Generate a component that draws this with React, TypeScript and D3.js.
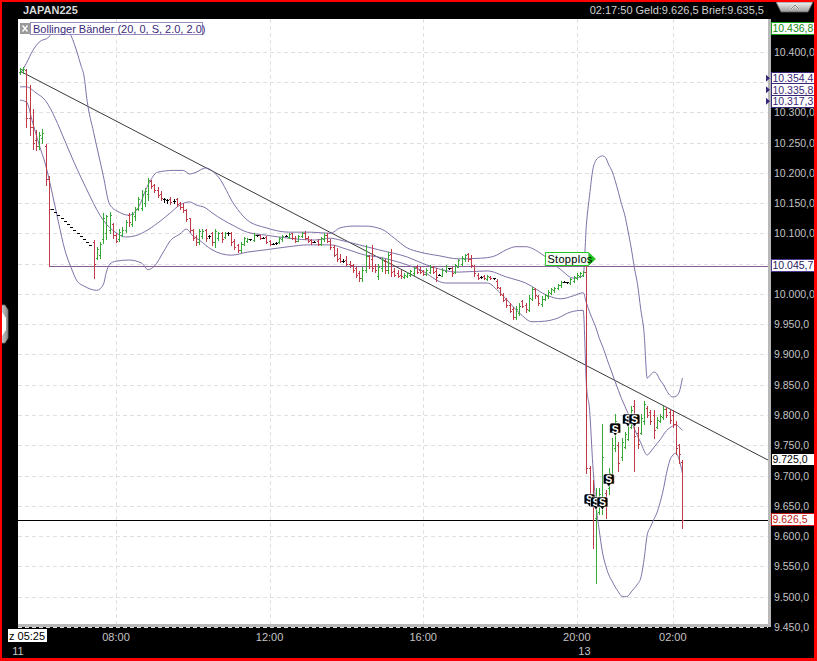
import React from "react";
import * as d3 from "d3";

const WIDTH = 817;
const HEIGHT = 661;
const PLOT = { left: 18, right: 768, top: 19, bottom: 624 };
const FONT = '"Liberation Sans", Arial, Helvetica, sans-serif';

const GREEN = "#35a835";
const RED = "#c03a48";
const BAND = "#8070a8";

// 5-minute OHLC bars: [open, high, low, close]
const bars: [number, number, number, number][] = [
  [10366, 10373, 10364, 10371], [10369, 10375, 10365, 10372], [10370, 10372, 10276, 10290], [10290, 10345, 10262, 10275],
  [10275, 10305, 10240, 10250], [10255, 10270, 10238, 10245], [10245, 10268, 10240, 10262], [10258, 10272, 10250, 10266],
  [10245, 10248, 10180, 10190], [10190, 10195, 10046, 10141],
  [10141, 10141, 10141, 10141], [10136, 10136, 10136, 10136], [10131, 10131, 10131, 10131], [10126, 10126, 10126, 10126],
  [10121, 10121, 10121, 10121], [10116, 10116, 10116, 10116], [10111, 10111, 10111, 10111], [10106, 10106, 10106, 10106],
  [10101, 10101, 10101, 10101], [10096, 10096, 10096, 10096], [10091, 10091, 10091, 10091], [10086, 10086, 10086, 10086],
  [10081, 10081, 10081, 10081],
  [10085, 10089, 10026, 10050], [10060, 10077, 10058, 10075], [10065, 10085, 10060, 10082], [10090, 10133, 10084, 10125],
  [10100, 10130, 10090, 10128], [10105, 10135, 10100, 10130], [10115, 10117, 10093, 10098], [10098, 10100, 10085, 10088],
  [10090, 10108, 10088, 10102], [10098, 10110, 10096, 10106], [10105, 10122, 10102, 10118], [10130, 10133, 10113, 10118],
  [10116, 10135, 10113, 10132], [10128, 10143, 10122, 10140], [10140, 10160, 10138, 10156], [10142, 10171, 10138, 10165],
  [10150, 10175, 10145, 10170], [10165, 10192, 10155, 10188], [10186, 10188, 10175, 10178], [10180, 10182, 10168, 10172],
  [10172, 10177, 10160, 10163], [10165, 10170, 10155, 10158], [10156, 10158, 10152, 10156], [10155, 10157, 10150, 10155],
  [10157, 10160, 10148, 10152], [10154, 10157, 10150, 10154], [10156, 10158, 10145, 10148], [10150, 10152, 10140, 10143],
  [10144, 10150, 10135, 10138], [10138, 10140, 10120, 10124], [10125, 10126, 10102, 10105], [10105, 10108, 10089, 10092],
  [10094, 10098, 10080, 10085], [10086, 10108, 10083, 10104], [10095, 10108, 10092, 10104], [10106, 10108, 10088, 10092],
  [10096, 10098, 10093, 10096], [10100, 10103, 10080, 10085], [10085, 10108, 10077, 10104], [10092, 10102, 10089, 10100],
  [10100, 10103, 10086, 10090], [10094, 10102, 10092, 10100], [10100, 10103, 10097, 10100], [10101, 10103, 10080, 10085],
  [10088, 10090, 10075, 10078], [10080, 10082, 10069, 10072], [10072, 10085, 10069, 10082], [10082, 10094, 10080, 10092],
  [10088, 10092, 10085, 10090], [10090, 10091, 10089, 10090], [10089, 10100, 10088, 10098], [10097, 10098, 10096, 10097],
  [10097, 10098, 10090, 10092], [10093, 10094, 10092, 10093], [10094, 10095, 10084, 10086], [10088, 10089, 10080, 10082],
  [10083, 10084, 10082, 10083], [10084, 10085, 10083, 10084], [10085, 10094, 10084, 10092], [10090, 10098, 10088, 10096],
  [10096, 10097, 10095, 10096], [10094, 10100, 10092, 10099], [10100, 10101, 10090, 10092], [10093, 10095, 10086, 10088],
  [10088, 10097, 10087, 10095], [10095, 10102, 10094, 10100], [10101, 10104, 10090, 10092], [10093, 10095, 10086, 10088],
  [10089, 10090, 10083, 10085], [10086, 10087, 10085, 10086], [10088, 10090, 10080, 10082], [10082, 10094, 10080, 10092],
  [10090, 10100, 10088, 10098], [10098, 10100, 10086, 10088], [10088, 10090, 10075, 10077], [10078, 10080, 10062, 10065],
  [10066, 10076, 10055, 10058], [10060, 10066, 10052, 10054], [10055, 10057, 10053, 10055], [10056, 10062, 10048, 10050],
  [10050, 10054, 10045, 10047], [10048, 10050, 10036, 10040], [10042, 10044, 10028, 10032], [10034, 10038, 10022, 10026],
  [10026, 10044, 10022, 10040], [10040, 10080, 10036, 10062], [10062, 10064, 10042, 10046], [10058, 10080, 10038, 10042],
  [10046, 10050, 10037, 10040], [10030, 10050, 10025, 10045], [10042, 10060, 10038, 10056], [10054, 10058, 10035, 10040],
  [10040, 10070, 10034, 10064], [10066, 10075, 10030, 10036], [10038, 10042, 10030, 10032], [10034, 10040, 10028, 10030],
  [10032, 10040, 10027, 10029], [10028, 10034, 10026, 10032], [10030, 10036, 10028, 10034], [10032, 10040, 10029, 10038],
  [10035, 10044, 10032, 10042], [10045, 10048, 10034, 10037], [10040, 10045, 10034, 10036], [10038, 10040, 10031, 10033],
  [10033, 10042, 10032, 10040], [10036, 10048, 10035, 10045], [10044, 10046, 10034, 10036], [10038, 10042, 10022, 10028],
  [10032, 10033, 10031, 10032], [10030, 10042, 10030, 10040], [10038, 10048, 10036, 10046], [10042, 10043, 10041, 10042],
  [10042, 10044, 10030, 10034], [10036, 10050, 10034, 10048], [10045, 10058, 10044, 10056], [10050, 10062, 10048, 10060],
  [10058, 10066, 10055, 10064], [10066, 10068, 10055, 10058], [10058, 10064, 10044, 10048], [10046, 10048, 10030, 10034],
  [10032, 10034, 10025, 10027], [10028, 10029, 10027, 10028], [10030, 10032, 10024, 10026], [10024, 10031, 10023, 10029],
  [10028, 10030, 10024, 10026], [10026, 10027, 10025, 10026], [10022, 10024, 10010, 10012], [10010, 10012, 9998, 10000],
  [9998, 10002, 9988, 9990], [9992, 9994, 9978, 9982], [9982, 9985, 9970, 9972], [9975, 9978, 9958, 9962],
  [9962, 9980, 9958, 9975], [9968, 9985, 9966, 9980], [9988, 9990, 9978, 9980], [9982, 9985, 9970, 9975],
  [9974, 9998, 9972, 9994], [9992, 10012, 9990, 10008], [10008, 10010, 9994, 9998], [9996, 9998, 9982, 9985],
  [9984, 9996, 9980, 9992], [9992, 10000, 9990, 9998], [9996, 10006, 9994, 10004], [10002, 10010, 10000, 10008],
  [10006, 10012, 10004, 10010], [10010, 10016, 10008, 10014], [10014, 10022, 10012, 10020], [10020, 10021, 10019, 10020],
  [10019, 10020, 10018, 10019], [10018, 10026, 10016, 10024], [10022, 10030, 10020, 10028], [10026, 10034, 10024, 10032],
  [10030, 10036, 10028, 10034], [10032, 10038, 10030, 10036],
  [10036, 10046, 9705, 9712], [9712, 9716, 9650, 9660], [9670, 9692, 9580, 9650], [9630, 9680, 9523, 9665],
  [9640, 9680, 9637, 9670], [9650, 9785, 9637, 9730], [9672, 9676, 9630, 9650], [9680, 9712, 9670, 9705],
  [9700, 9762, 9698, 9750], [9745, 9802, 9740, 9790], [9750, 9756, 9708, 9720], [9730, 9762, 9726, 9755],
  [9748, 9772, 9746, 9768], [9760, 9791, 9758, 9785], [9780, 9815, 9778, 9808], [9815, 9825, 9708, 9765],
  [9770, 9780, 9745, 9752], [9770, 9802, 9768, 9795], [9790, 9824, 9786, 9818], [9812, 9815, 9796, 9800],
  [9805, 9808, 9786, 9790], [9800, 9808, 9762, 9775], [9780, 9796, 9778, 9792], [9790, 9802, 9788, 9798],
  [9796, 9815, 9794, 9810], [9810, 9813, 9796, 9800], [9805, 9808, 9787, 9792], [9800, 9808, 9780, 9786],
  [9786, 9790, 9735, 9745], [9750, 9752, 9720, 9735], [9722, 9726, 9614, 9626.5],
];

// Bollinger (20, 2.0) bands: [bar index, value]
const upperBand: [number, number][] = [
  [0, 10363], [2, 10381], [4, 10402], [6, 10416], [9, 10424], [10, 10432], [12, 10440], [13, 10442], [15, 10436],
  [16, 10426], [18, 10396], [19, 10378], [20, 10360], [21, 10318], [23, 10267], [26, 10196], [28, 10148], [31, 10135],
  [34, 10130], [37, 10143], [40, 10180], [43, 10201], [48, 10204], [51, 10204], [53, 10198], [55, 10201], [58, 10208],
  [62, 10193], [67, 10147], [71, 10122], [77, 10109], [84, 10102], [91, 10102], [97, 10100], [100, 10109], [104, 10112],
  [108, 10112], [113, 10107], [117, 10092], [121, 10076], [125, 10069], [131, 10063], [137, 10058], [144, 10059],
  [148, 10062], [152, 10073], [155, 10078], [158, 10078], [163, 10066], [169, 10040], [173, 10026], [176, 10030],
  [177, 10114], [178, 10163], [179, 10205], [180, 10221], [181, 10226], [182, 10228], [183, 10225], [184, 10213],
  [185, 10203], [186, 10187], [187, 10168], [188, 10148], [189, 10130], [190, 10104], [191, 10076], [192, 10043],
  [193, 10015], [194, 9974], [195, 9937], [196, 9861], [197, 9866], [198, 9871], [199, 9868], [200, 9858], [201, 9851],
  [202, 9841], [203, 9833], [204, 9830], [205, 9831], [206, 9838], [207, 9861],
];
const middleBand: [number, number][] = [
  [0, 10342], [2, 10342], [5, 10332], [8, 10319], [11, 10290], [14, 10253], [17, 10216], [19, 10193], [22, 10160],
  [24, 10139], [26, 10122], [30, 10101], [33, 10094], [36, 10096], [40, 10106], [44, 10121], [47, 10134], [50, 10147],
  [53, 10152], [55, 10147], [58, 10142], [60, 10134], [67, 10112], [71, 10102], [77, 10097], [84, 10092], [92, 10089],
  [97, 10092], [100, 10089], [106, 10081], [112, 10073], [121, 10061], [127, 10048], [137, 10036], [146, 10038],
  [152, 10028], [158, 10018], [165, 9997], [169, 9992], [173, 9997], [176, 10002], [177, 9985], [178, 9970],
  [179, 9957], [180, 9944], [181, 9927], [182, 9914], [184, 9884], [186, 9855], [188, 9827], [190, 9803], [192, 9777],
  [194, 9754], [196, 9734], [197, 9739], [198, 9746], [200, 9759], [202, 9774], [204, 9782], [205, 9784], [206, 9780],
  [207, 9775],
];
const lowerBand: [number, number][] = [
  [0, 10320], [2, 10317], [4, 10282], [6, 10246], [8, 10213], [10, 10168], [12, 10119], [14, 10073], [16, 10043],
  [18, 10020], [20, 10013], [22, 10008], [24, 10006], [26, 10015], [27, 10036], [28, 10049], [30, 10054], [34, 10056],
  [38, 10051], [40, 10040], [42, 10046], [45, 10071], [47, 10088], [50, 10099], [52, 10107], [54, 10096], [56, 10089],
  [60, 10073], [66, 10064], [71, 10069], [77, 10073], [84, 10078], [90, 10081], [97, 10081], [102, 10074], [108, 10064],
  [112, 10061], [118, 10053], [125, 10040], [133, 10018], [140, 10018], [146, 10018], [150, 10002], [156, 9969],
  [160, 9954], [164, 9955], [168, 9960], [172, 9970], [176, 9973], [177, 9850], [178, 9808], [179, 9718], [180, 9652],
  [181, 9610], [182, 9574], [183, 9552], [184, 9536], [185, 9526], [186, 9516], [187, 9508], [188, 9501], [189, 9500],
  [190, 9501], [191, 9508], [192, 9514], [193, 9521], [194, 9531], [195, 9561], [196, 9602], [197, 9615], [198, 9627],
  [199, 9638], [200, 9655], [201, 9676], [202, 9703], [203, 9724], [204, 9734], [205, 9737], [206, 9726], [207, 9704],
];

// Drawn trendline anchors: [bar index, price]
const trendLine: [number, number][] = [[0, 10368], [234, 9725]];

const stopLevel = 10045.7;
const stopStartBar = 9;
const stopHitBar = 177;
const lastPrice = 9626.5;

const priceTicks = [9450, 9500, 9550, 9600, 9650, 9700, 9750, 9800, 9850, 9900, 9950, 10000,
  10050, 10100, 10150, 10200, 10250, 10300, 10350, 10400];
const timeTickBars = [30, 78, 126, 174, 204];
const timeTickLabels = ["08:00", "12:00", "16:00", "20:00", "02:00"];
const dateBars = [0, 177];
const dateLabels = ["11", "13"];

// Executed order tags "S": bar index and price at the tag tip
const signalBars = [178, 180, 182, 184, 186, 190, 192];
const signalPrices = [9645, 9640, 9640, 9678, 9762, 9777, 9777];

// Price flags on the right axis
const flagValues = [10436.8, 10354.4, 10335.8, 10317.3, 10045.7, 9725, 9626.5];
const flagKinds = ["high", "band", "band", "band", "stop", "trend", "last"];

const flagStyle: Record<string, { stroke: string; text: string; arrow: boolean }> = {
  high: { stroke: "#1aa01a", text: "#148c14", arrow: false },
  band: { stroke: "#3a2878", text: "#3a2878", arrow: true },
  stop: { stroke: "#4a3890", text: "#2a2060", arrow: false },
  trend: { stroke: "#000000", text: "#000000", arrow: false },
  last: { stroke: "#c01818", text: "#c01818", arrow: false },
};

const deFormat = d3.formatLocale({ decimal: ",", thousands: ".", grouping: [3], currency: ["", ""] }).format(",.1f");

export default function App() {
  const x = d3.scaleLinear().domain([0, 207]).range([20, 20 + 207 * 3.2]);
  const y = d3.scaleLinear().domain([9450, 10400]).range([627, 51.7]);
  const px = (v: number) => Math.round(v) + 0.5;

  const bandLine = d3
    .line<[number, number]>()
    .x((d) => x(d[0]))
    .y((d) => y(d[1]))
    .curve(d3.curveMonotoneX);

  const trendPath = d3.line<[number, number]>().x((d) => x(d[0])).y((d) => y(d[1]))(trendLine) || "";

  // stack flags so they do not overlap
  const flagCenters: number[] = [];
  flagValues.forEach((v, i) => {
    let c = Math.max(y(v) - 1, PLOT.top + 6);
    if (i > 0 && c < flagCenters[i - 1] + 11.5) c = flagCenters[i - 1] + 11.5;
    flagCenters.push(c);
  });
  // axis labels that sit fully behind a flag are not drawn
  const visibleTicks = priceTicks.filter((t) => flagCenters.every((c) => Math.abs(c - y(t)) > 8));

  const stopY = px(y(stopLevel));
  const stopTipX = x(stopHitBar) + 9;

  return (
    <svg
      width={WIDTH}
      height={HEIGHT}
      style={{ position: "absolute", left: 0, top: 0, fontFamily: FONT }}
    >
      <defs>
        <clipPath id="plot-clip">
          <rect x={PLOT.left} y={PLOT.top} width={PLOT.right - PLOT.left} height={PLOT.bottom - PLOT.top} />
        </clipPath>
        <linearGradient id="btn-grad" x1="0" y1="0" x2="0" y2="1">
          <stop offset="0" stopColor="#f4f4f4" />
          <stop offset="1" stopColor="#9a9a9a" />
        </linearGradient>
        <linearGradient id="tab-grad" x1="0" y1="0" x2="1" y2="0">
          <stop offset="0" stopColor="#d8d8d8" />
          <stop offset="1" stopColor="#8a8a8a" />
        </linearGradient>
      </defs>

      <rect x={0} y={0} width={WIDTH} height={HEIGHT} fill="#000" />
      <rect x={PLOT.left} y={PLOT.top} width={PLOT.right - PLOT.left} height={PLOT.bottom - PLOT.top} fill="#fff" />

      {/* grid */}
      <g stroke="#e0e0e0" strokeWidth={1} strokeDasharray="4,3" shapeRendering="crispEdges">
        {priceTicks.map((t) => (
          <line key={t} x1={PLOT.left} x2={PLOT.right} y1={px(y(t))} y2={px(y(t))} />
        ))}
        {timeTickBars.map((b) => (
          <line key={b} x1={px(x(b))} x2={px(x(b))} y1={PLOT.top} y2={PLOT.bottom} />
        ))}
      </g>

      <g clipPath="url(#plot-clip)">
        {/* stop level */}
        <line x1={x(stopStartBar)} x2={PLOT.right} y1={stopY} y2={stopY} stroke="#8a5c96" strokeWidth={1} shapeRendering="crispEdges" />
        {/* last price */}
        <line x1={PLOT.left} x2={PLOT.right} y1={px(y(lastPrice))} y2={px(y(lastPrice))} stroke="#000" strokeWidth={1} shapeRendering="crispEdges" />
        {/* trendline */}
        <path d={trendPath} stroke="#3a3a3a" strokeWidth={1} fill="none" />

        {/* bollinger bands */}
        {[upperBand, middleBand, lowerBand].map((b, i) => (
          <path key={i} d={bandLine(b) || ""} stroke={BAND} strokeWidth={1} fill="none" />
        ))}

        {/* OHLC bars */}
        <g shapeRendering="crispEdges" strokeWidth={1}>
          {bars.map(([o, h, l, c], i) => {
            const cx = Math.round(x(i));
            const col = c > o ? GREEN : c < o ? RED : "#000";
            const yo = px(y(o));
            const yc = px(y(c));
            return (
              <g key={i} stroke={col}>
                {h > l && <line x1={cx + 0.5} x2={cx + 0.5} y1={Math.round(y(h))} y2={Math.round(y(l)) + 1} />}
                <line x1={cx - 1} x2={cx + 1} y1={yo} y2={yo} />
                <line x1={cx} x2={cx + 2} y1={yc} y2={yc} />
              </g>
            );
          })}
        </g>

        {/* order tags */}
        {signalBars.map((b, i) => {
          const cx = x(b);
          const tip = y(signalPrices[i]);
          return (
            <g key={i}>
              <path
                d={`M${cx - 5.5},${tip - 13} q0,-2 2,-2 h7 q2,0 2,2 v8 h-3.5 l-2,3 l-2,-3 h-3.5 z`}
                fill="#000"
                stroke="#fff"
                strokeWidth={0.6}
              />
              <text x={cx} y={tip - 5.5} fill="#fff" fontSize={10.5} fontWeight="bold" textAnchor="middle">
                S
              </text>
            </g>
          );
        })}

        {/* stop label */}
        <g>
          <path
            d={`M${stopTipX - 50},${stopY - 14} h43 l7,6.5 l-7,6.5 h-43 z`}
            fill="#f4fff4"
            stroke="#22c422"
            strokeWidth={1}
          />
          <path d={`M${stopTipX - 7},${stopY - 14} l7,6.5 l-7,6.5 z`} fill="#22c422" />
          <text x={stopTipX - 48} y={stopY - 3.5} fontSize={11} fill="#000" letterSpacing={0.3}>
            Stopplos
          </text>
        </g>
      </g>

      {/* indicator legend */}
      <g>
        <rect x={30.5} y={22.5} width={172} height={12} fill="#fff" stroke="#9a8cc0" strokeWidth={1} />
        <rect x={20} y={23} width={10} height={11} fill="#9a9a9a" />
        <path d="M22.5,25.5 L27.5,31.5 M27.5,25.5 L22.5,31.5" stroke="#fff" strokeWidth={1.4} />
        <text x={33} y={32.5} fontSize={11} fill="#3a2a7a">
          Bollinger Bänder (20, 0, S, 2.0, 2.0)
        </text>
      </g>

      {/* plot frame */}
      <rect x={PLOT.right} y={PLOT.top} width={3} height={PLOT.bottom - PLOT.top + 3} fill="#b8b8b8" />
      <rect x={PLOT.left} y={PLOT.bottom} width={PLOT.right - PLOT.left + 3} height={3} fill="#b8b8b8" />

      {/* price axis */}
      <g fontSize={10.5} fill="#c4c4c4">
        {visibleTicks.map((t) => (
          <text key={t} x={774} y={y(t) + 4}>
            {deFormat(t)}
          </text>
        ))}
      </g>

      {/* price flags */}
      {flagValues.map((v, i) => {
        const s = flagStyle[flagKinds[i]];
        const c = flagCenters[i];
        return (
          <g key={i}>
            <rect x={771.5} y={Math.round(c - 6.5) + 0.5} width={45} height={12} fill="#fff" stroke={s.stroke} strokeWidth={1} />
            {s.arrow && <path d={`M766,${c - 3.5} l4,3.5 l-4,3.5 z`} fill={s.stroke} />}
            <text x={772.5} y={c + 4} fontSize={10.5} fill={s.text}>
              {deFormat(v)}
            </text>
          </g>
        );
      })}

      {/* time axis */}
      <g fontSize={11} fill="#c4c4c4" textAnchor="middle">
        {timeTickBars.map((b, i) => (
          <text key={b} x={x(b)} y={641}>
            {timeTickLabels[i]}
          </text>
        ))}
        {dateBars.map((b, i) => (
          <text key={b} x={x(b) - 2} y={655}>
            {dateLabels[i]}
          </text>
        ))}
      </g>
      <rect x={8} y={629} width={39} height={13} fill="#fff" />
      <text x={9} y={640} fontSize={11} fill="#000">
        z 05:25
      </text>

      {/* header */}
      <text x={23} y={14} fontSize={11} fontWeight="bold" fill="#d8d8d8">
        JAPAN225
      </text>
      <text x={764} y={14} fontSize={11} fill="#d0d0d0" textAnchor="end">
        02:17:50  Geld:9.626,5  Brief:9.635,5
      </text>
      <path d="M776,2 H813 L808,12 H781 Z" fill="url(#btn-grad)" stroke="#606060" strokeWidth={0.8} />
      <path d="M791,9 L795,5 L799,9" stroke="#fff" strokeWidth={1.5} fill="none" />
      <path d="M791,9 L795,5 L799,9" stroke="#222" strokeWidth={0.6} fill="none" />

      {/* side handle */}
      <path d="M0,305 L5,305 L8,310 L8,338 L5,343 L0,343 Z" fill="url(#tab-grad)" stroke="#707070" strokeWidth={0.8} />
      <path d="M2,312 L6,318 L6,330 L2,336 Z" fill="#fff" />

      {/* window frame */}
      <rect x={0} y={0} width={WIDTH} height={2} fill="#ff0000" />
      <rect x={0} y={0} width={2} height={HEIGHT} fill="#ff0000" />
      <rect x={WIDTH - 3} y={0} width={3} height={HEIGHT} fill="#ff0000" />
      <rect x={0} y={HEIGHT - 3} width={WIDTH} height={3} fill="#ff0000" />
    </svg>
  );
}
